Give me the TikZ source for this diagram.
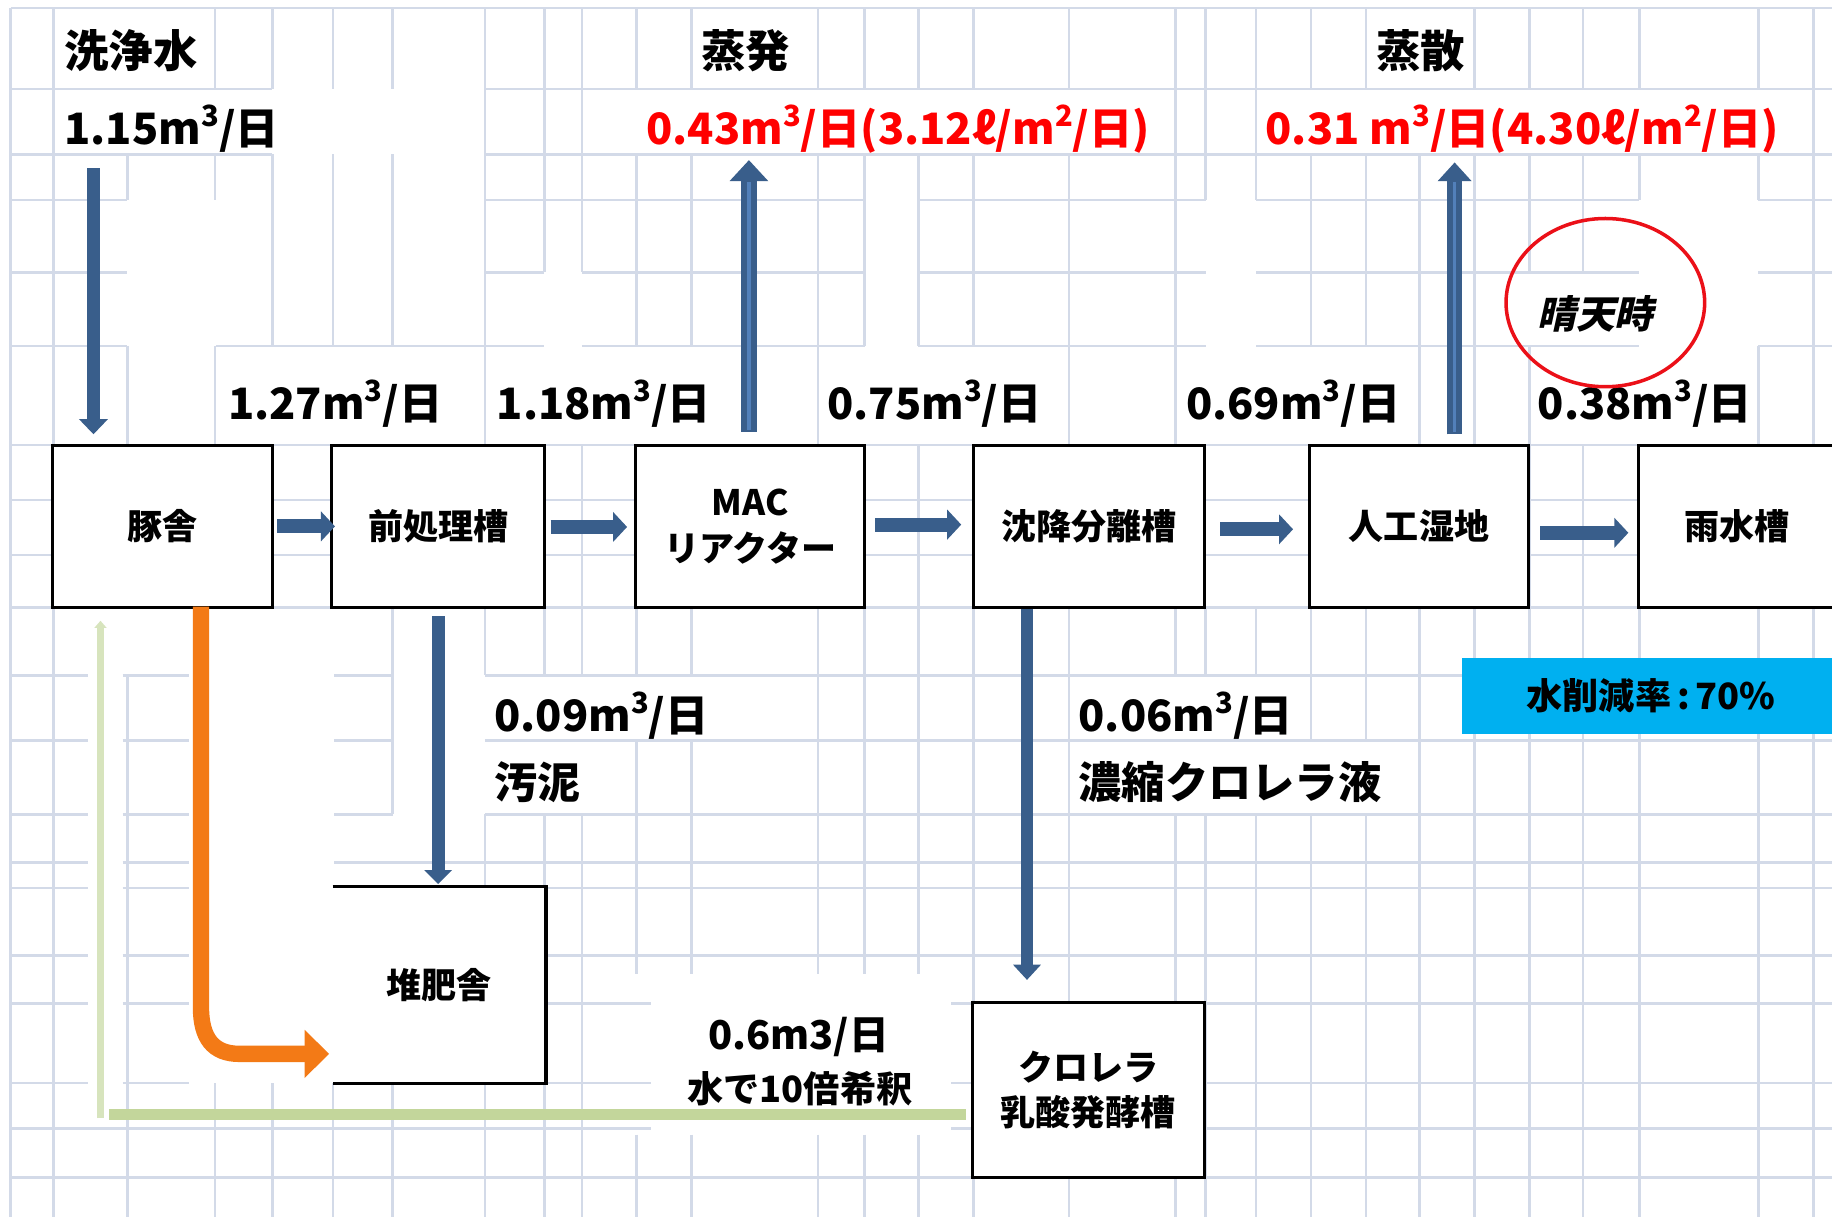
\documentclass[tikz,border=0pt]{standalone}
\usepackage{fontspec}
\newfontfamily\jp{Noto Sans CJK JP}
\newfontfamily\jpit{Noto Sans CJK JP}[FakeSlant=0.22]
\usetikzlibrary{arrows.meta,calc,shapes.geometric}
\definecolor{gridc}{RGB}{211,218,232}
\definecolor{flowblue}{RGB}{57,94,139}
\definecolor{flowlight}{RGB}{82,128,186}
\definecolor{orangeA}{RGB}{243,122,22}
\definecolor{greenA}{RGB}{195,214,155}
\definecolor{greenB}{RGB}{215,228,189}
\definecolor{cyanA}{RGB}{0,176,240}
\definecolor{redA}{RGB}{255,0,0}
\definecolor{circred}{RGB}{235,16,24}
\newcommand\cube{\raisebox{15.5pt}{\fontsize{25}{25}\selectfont 3}}
\newcommand\sqr{\raisebox{15.5pt}{\fontsize{25}{25}\selectfont 2}}
\begin{document}
\begin{tikzpicture}[x=1pt,y=-1pt,
  gl/.style={draw=gridc,line width=2.2pt},
  box/.style={draw=black,line width=2.6pt,fill=white,inner sep=0pt,align=center,
    font=\jp\bfseries\fontsize{30}{39}\selectfont},
  lab/.style={inner sep=0pt,anchor=base west,font=\jp\bfseries\fontsize{37}{40}\selectfont},
  headlab/.style={inner sep=0pt,anchor=base west,font=\jp\bfseries\fontsize{38}{40}\selectfont},
  redlab/.style={lab,text=redA},
  barrow/.style={draw=flowblue,line width=12pt,-{Triangle[length=12pt,width=25pt]}},
]
\fill[white] (0,0) rectangle (1568,1042.5);
\useasboundingbox (0,0) rectangle (1568,1042.5);

% grid
\foreach \y/\a/\b in {7/9/1568,
 76/9/233, 76/415/1568,
 132/9/233, 132/415/1568,
 171/9/109, 171/415/740, 171/786/1032, 171/1075/1403, 171/1505/1568,
 233/9/109, 233/415/466, 233/498/740, 233/786/1032, 233/1075/1403, 233/1505/1568,
 296/9/109, 296/185/466, 296/498/740, 296/786/1032, 296/1075/1403, 296/1505/1568,
 381/9/1568,
 428/9/45, 428/233/284, 428/466/544, 428/740/833, 428/1031/1121, 428/1308/1402,
 475/9/45, 475/233/284, 475/466/544, 475/740/833, 475/1031/1121, 475/1308/1402,
 520/9/1568,
 578/9/75, 578/105/162, 578/286/336, 578/415/1568,
 634/9/75, 634/105/162, 634/286/336, 634/415/1568,
 697/9/75, 697/105/162, 697/286/336, 697/415/1568,
 738/9/75, 738/105/162, 738/286/1568,
 760/9/75, 760/105/162, 760/286/1568,
 818/9/75, 818/105/162, 818/466/1568,
 859/9/75, 859/105/162, 859/466/557, 859/814/1568,
 927/9/75, 927/105/162, 927/286/557, 927/814/1568,
 966/9/557, 966/814/1568,
 1008/9/1568}
  \draw[gl] (\a,\y) -- (\b,\y);
\foreach \x/\a/\b in {9/7/1042, 46/7/1042,
 109/132/171, 109/296/381, 109/578/1042,
 184/7/76, 184/132/171, 184/296/381, 184/927/1042,
 233/7/76, 233/132/296, 233/927/1042,
 285/7/76, 285/132/296, 285/927/1042,
 336/7/76, 336/132/296, 336/520/697, 336/927/1042,
 415/7/381, 415/520/578, 415/697/760, 415/927/1042,
 466/7/233, 466/520/578, 466/697/1042,
 498/7/233, 498/381/578, 498/697/1042,
 545/7/76, 545/132/296, 545/520/578, 545/634/834, 545/971/1042,
 592/7/76, 592/132/296, 592/520/578, 592/634/834, 592/971/1042,
 700/7/76, 700/132/381, 700/520/834, 700/971/1042,
 740/7/76, 740/132/296, 740/520/834, 740/971/1042,
 786/7/76, 786/132/296, 786/381/834, 786/971/1042,
 833/7/76, 833/132/296, 833/381/1042,
 915/7/76, 915/132/1042,
 1006/7/381, 1006/520/578, 1006/697/1042,
 1032/7/171, 1032/520/578, 1032/697/1042,
 1075/7/171, 1075/520/578, 1075/697/1042,
 1122/7/76, 1122/132/296, 1122/520/634, 1122/697/1042,
 1169/7/76, 1169/132/296, 1169/520/634, 1169/697/1042,
 1215/132/1042,
 1262/7/76, 1262/132/1042,
 1309/7/76, 1309/132/233, 1309/296/1042,
 1355/7/76, 1355/132/233, 1355/381/1042,
 1403/7/76, 1403/132/171, 1403/381/1042,
 1505/7/76, 1505/132/171, 1505/296/1042,
 1552/7/1042}
  \draw[gl] (\x,\a) -- (\x,\b);

% reduction rate box
\node[fill=cyanA,minimum width=324pt,minimum height=65pt,inner sep=0pt,
  font=\jp\bfseries\fontsize{31}{32}\selectfont] (rate) at (1413,595.5)
  {水削減率\hspace{5pt}:\hspace{5pt}70\%};

% boxes
\node[box,minimum width=188pt,minimum height=139pt] (buta) at (139,450.5) {豚舎};
\node[box,minimum width=182pt,minimum height=139pt] (zen) at (375,450.5) {前処理槽};
\node[box,minimum width=196pt,minimum height=139pt] (mac) at (642,450.5) {MAC\\リアクター};
\node[box,minimum width=198pt,minimum height=139pt] (chin) at (932,450.5) {沈降分離槽};
\node[box,minimum width=187pt,minimum height=139pt] (jinko) at (1214.5,450.5) {人工湿地};
\node[box,minimum width=169pt,minimum height=139pt] (usui) at (1486.5,450.5) {雨水槽};
\node[box,draw=none,minimum width=180pt,minimum height=166pt] (taihi) at (376,843) {堆肥舎};
\draw[black,line width=2.6pt] (taihi.north west) -- (taihi.north east)
  -- (taihi.south east) -- (taihi.south west);
\node[box,minimum width=199pt,minimum height=150pt] (nyusan) at (931.5,933) {クロレラ\\乳酸発酵槽};

% free ends
\coordinate (washtop) at (80,144);
\coordinate (evaptop) at (641,137);
\coordinate (transtop) at (1245,139);

% blue flow arrows
\draw[barrow,line width=11pt,-{Triangle[length=13pt,width=24pt]}]
  (washtop) -- ([xshift=-59pt,yshift=8pt]buta.north);
\draw[barrow] ([xshift=3pt]buta.east) -- ([xshift=4pt]zen.west);
\draw[barrow] ([xshift=4pt,yshift=-0.5pt]zen.east) -- ([xshift=-6pt,yshift=-0.5pt]mac.west);
\draw[barrow] ([xshift=8pt,yshift=1.5pt]mac.east) -- ([xshift=-9pt,yshift=1.5pt]chin.west);
\draw[barrow] ([xshift=12pt,yshift=-2.5pt]chin.east) -- ([xshift=-13pt,yshift=-2.5pt]jinko.west);
\draw[barrow] ([xshift=9pt,yshift=-5.5pt]jinko.east) -- ([xshift=-7pt,yshift=-5.5pt]usui.west);
\draw[barrow,line width=14pt,-{Triangle[length=18pt,width=32pt]}]
  ([xshift=-1pt,yshift=10pt]mac.north) -- (evaptop);
\draw[flowlight,line width=3pt] ([xshift=-1pt,yshift=12pt]mac.north) -- ($(evaptop)+(0,19)$);
\draw[barrow,line width=13pt,-{Triangle[length=16pt,width=28pt]}]
  ([xshift=30.5pt,yshift=8pt]jinko.north) -- (transtop);
\draw[flowlight,line width=3pt] ([xshift=30.5pt,yshift=10pt]jinko.north) -- ($(transtop)+(0,17)$);
\draw[barrow,line width=11pt,-{Triangle[length=12pt,width=23pt]}]
  ([yshift=-6pt]zen.south) -- ([xshift=-1pt,yshift=2pt]taihi.north);
\draw[barrow,line width=10pt,-{Triangle[length=13pt,width=23pt]}]
  ([xshift=-53pt]chin.south) -- ([xshift=-52.5pt,yshift=18pt]nyusan.north);

% orange manure flow
\draw[orangeA,line width=14pt,-{Triangle[length=21pt,width=40pt]}]
  ([xshift=33pt,yshift=2pt]buta.south) -- (172,862)
  .. controls (172,888) and (182,902) .. (205,902)
  -- ([xshift=-3pt,yshift=-59pt]taihi.west);

% green return flow
\draw[greenA,line width=9pt] ([xshift=-4pt,yshift=-21pt]nyusan.west) -- (93,954);
\draw[greenB,line width=6pt,-{Triangle[length=6pt,width=10pt]}]
  (86,957) -- ([xshift=-53pt,yshift=-10pt]buta.south);

% labels
\node[headlab] (senjo) at (55,58) {洗浄水};
\node[lab] (q115) at (55,124) {1.15m\cube/日};
\node[headlab] (johatsu) at (600,58) {蒸発};
\node[headlab] (josan) at (1178,58) {蒸散};
\node[redlab] (q043) at (553,124) {0.43m\cube/日(3.12ℓ/m\sqr/日)};
\node[redlab] (q031) at (1083,124) {0.31 m\cube/日(4.30ℓ/m\sqr/日)};
\node[lab] (q127) at (195,359) {1.27m\cube/日};
\node[lab] (q118) at (425,359) {1.18m\cube/日};
\node[lab] (q075) at (708,359) {0.75m\cube/日};
\node[lab] (q069) at (1015,359) {0.69m\cube/日};
\node[lab] (q038) at (1316,359) {0.38m\cube/日};
\node[lab] (q009) at (423,626) {0.09m\cube/日};
\node[lab] (odei) at (423,683) {汚泥};
\node[lab] (q006) at (923,626) {0.06m\cube/日};
\node[lab] (noshuku) at (923,683) {濃縮クロレラ液};
\node[lab,font=\jp\bfseries\fontsize{34}{36}\selectfont] (q06) at (606,898) {0.6m3/日};
\node[lab,font=\jp\bfseries\fontsize{31}{32}\selectfont] (dilute) at (588,944) {水で10倍希釈};

% sunny-weather ellipse
\node[draw=circred,line width=3pt,ellipse,minimum width=170pt,minimum height=144pt,inner sep=0pt] (sunny) at (1374,259) {};
\node[inner sep=0pt,anchor=base west,font=\jpit\bfseries\fontsize{33}{34}\selectfont] (seiten) at (1316,281) {晴天時};
\end{tikzpicture}
\end{document}
